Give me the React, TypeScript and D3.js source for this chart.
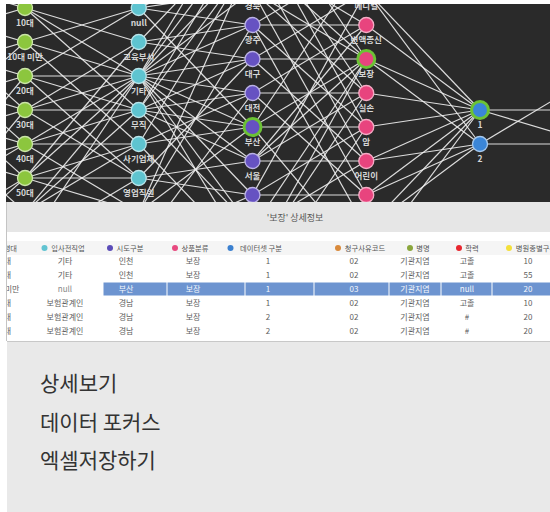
import React from 'react';
import * as d3 from 'd3';

// graph columns (left column sits off screen)
const hiddenNodes = ['구분1', '구분2', '구분3', '구분4', '구분5', '구분6', '구분7', '구분8', '구분9', '구분10'];
const ageNodes = ['10대', '10대 미만', '20대', '30대', '40대', '50대', '60대', '70대'];
const jobNodes = ['null', '교육부서', '기타', '무직', '사기업체', '영업직원', '보험관계인', '자영업'];
const regionNodes = ['강원', '경기', '경남', '경북', '광주', '대구', '대전', '부산', '서울', '세종', '울산', '인천', '전남'];
const productNodes = ['건강', '메디컬', '변액종신', '보장', '실손', '암', '어린이', '연금', '저축', '종신'];
const datasetNodes = ['1', '2'];
const claimNodes = ['01', '02', '03'];

const hiddenAgeLinks = [
  ['구분1', '10대'], ['구분3', '10대'],
  ['구분2', '10대 미만'], ['구분4', '10대 미만'], ['구분6', '10대 미만'],
  ['구분3', '20대'], ['구분5', '20대'], ['구분8', '20대'],
  ['구분2', '30대'], ['구분4', '30대'], ['구분6', '30대'], ['구분9', '30대'],
  ['구분3', '40대'], ['구분5', '40대'], ['구분7', '40대'], ['구분8', '40대'],
  ['구분4', '50대'], ['구분6', '50대'], ['구분9', '50대'], ['구분10', '50대'],
  ['구분5', '60대'], ['구분7', '60대'], ['구분6', '70대'], ['구분8', '70대'],
];
const ageJobLinks = [
  ['10대', '교육부서'], ['10대', '기타'], ['10대', '무직'],
  ['10대 미만', 'null'], ['10대 미만', '기타'], ['10대 미만', '사기업체'],
  ['20대', '기타'], ['20대', '무직'], ['20대', '영업직원'], ['20대', 'null'],
  ['30대', '기타'], ['30대', '무직'], ['30대', '교육부서'], ['30대', '영업직원'],
  ['40대', '기타'], ['40대', '사기업체'], ['40대', '무직'], ['40대', '보험관계인'],
  ['50대', '기타'], ['50대', '사기업체'], ['50대', '영업직원'], ['50대', '보험관계인'], ['50대', '교육부서'],
  ['60대', '기타'], ['60대', '무직'], ['60대', '사기업체'], ['60대', '자영업'],
  ['70대', '기타'], ['70대', '영업직원'], ['70대', '보험관계인'],
];
const jobRegionLinks = [
  ['null', '경북'], ['null', '광주'], ['null', '부산'], ['null', '경남'],
  ['교육부서', '광주'], ['교육부서', '대구'], ['교육부서', '경기'],
  ['기타', '강원'], ['기타', '경기'], ['기타', '경남'], ['기타', '경북'], ['기타', '광주'], ['기타', '대구'],
  ['기타', '대전'], ['기타', '부산'], ['기타', '서울'], ['기타', '세종'], ['기타', '울산'], ['기타', '인천'],
  ['무직', '경기'], ['무직', '경남'], ['무직', '대구'], ['무직', '대전'], ['무직', '부산'], ['무직', '서울'], ['무직', '울산'],
  ['사기업체', '경남'], ['사기업체', '대전'], ['사기업체', '부산'], ['사기업체', '인천'],
  ['영업직원', '대구'], ['영업직원', '서울'], ['영업직원', '세종'],
  ['보험관계인', '경남'], ['보험관계인', '광주'], ['보험관계인', '부산'], ['보험관계인', '울산'],
  ['자영업', '대전'], ['자영업', '세종'],
];
const regionProductLinks = [
  ['강원', '메디컬'], ['강원', '보장'],
  ['경기', '건강'], ['경기', '실손'], ['경기', '암'],
  ['경남', '보장'], ['경남', '변액종신'], ['경남', '어린이'],
  ['경북', '보장'], ['경북', '메디컬'], ['경북', '실손'], ['경북', '연금'],
  ['광주', '건강'], ['광주', '변액종신'], ['광주', '암'], ['광주', '저축'],
  ['대구', '보장'], ['대구', '어린이'], ['대구', '메디컬'],
  ['대전', '실손'], ['대전', '변액종신'], ['대전', '연금'],
  ['부산', '보장'], ['부산', '암'], ['부산', '건강'], ['부산', '종신'],
  ['서울', '보장'], ['서울', '실손'], ['서울', '어린이'], ['서울', '변액종신'],
  ['세종', '암'], ['세종', '메디컬'], ['세종', '연금'],
  ['울산', '보장'], ['울산', '어린이'], ['울산', '저축'],
  ['인천', '보장'], ['인천', '실손'],
  ['전남', '암'], ['전남', '종신'],
];
const productDatasetLinks = [
  ['메디컬', '1'], ['메디컬', '2'], ['변액종신', '1'], ['보장', '1'], ['보장', '2'],
  ['실손', '1'], ['암', '1'], ['어린이', '1'], ['어린이', '2'],
  ['연금', '1'], ['연금', '2'], ['저축', '1'], ['저축', '2'], ['종신', '1'],
];
const datasetClaimLinks = [['1', '02'], ['1', '03'], ['2', '03'], ['2', '01']];

const focusNodes = ['부산', '보장', '1'];

// detail table
const detailTitle = "'보장' 상세정보";
const tableHeaders = ['연령대', '입사전직업', '시도구분', '상품분류', '데이터셋 구분', '청구사유코드', '병명', '학력', '병원종별구분'];
const tableRows = [
  ['40대', '기타', '인천', '보장', '1', '02', '기관지염', '고졸', '10'],
  ['50대', '기타', '인천', '보장', '1', '02', '기관지염', '고졸', '55'],
  ['10대 미만', 'null', '부산', '보장', '1', '03', '기관지염', 'null', '20'],
  ['30대', '보험관계인', '경남', '보장', '1', '02', '기관지염', '고졸', '10'],
  ['40대', '보험관계인', '경남', '보장', '2', '02', '기관지염', '#', '20'],
  ['30대', '보험관계인', '경남', '보장', '2', '02', '기관지염', '#', '20'],
  ['20대', '기타', '경남', '보장', '1', '01', '기관지염', '고졸', '10'],
];
const selectedRow = 2;
const menuItems = ['상세보기', '데이터 포커스', '엑셀저장하기'];

// layout / style
const columnNodes = [hiddenNodes, ageNodes, jobNodes, regionNodes, productNodes, datasetNodes, claimNodes];
const columnStart = [-1, 0, 0, -3.5, -1.5, 3, 2];
const columnColor = ['#9a9a9a', '#8cc63e', '#5ec4d0', '#6652c2', '#e8447e', '#3b86d8', '#d98a3b'];
const layerLinks = [hiddenAgeLinks, ageJobLinks, jobRegionLinks, regionProductLinks, productDatasetLinks, datasetClaimLinks];
const headerColor = ['#8cc63e', '#62c4d2', '#5b4cb8', '#e84a80', '#3b80d0', '#d98a3b', '#8aa63c', '#e8262e', '#f4e03a'];
const colText = [3, 65, 126, 193, 268, 354, 415, 467, 528];
const headText = [3, 64, 126, 191, 257, 361, 419, 468, 532];
const colEdges = [-40, 30, 103, 167, 245, 314, 389, 441, 492, 560];

const FONT = "'Noto Sans CJK KR', 'Noto Sans', sans-serif";

export default function App() {
  const xCol = d3.scaleLinear().domain([1, 5]).range([25, 480]);
  const yRow = d3.scaleLinear().domain([0, 5]).range([8, 178]);

  const pos = (ci: number, name: string) => {
    const j = columnNodes[ci].indexOf(name);
    return { x: xCol(ci), y: yRow(columnStart[ci] + j) };
  };

  const links = layerLinks.flatMap((layer, li) =>
    layer.map(([s, t]) => ({ a: pos(li, s), b: pos(li + 1, t), key: `${li}-${s}-${t}` }))
  );

  const nodes = columnNodes.flatMap((list, ci) =>
    list.map((name) => ({ name, ci, ...pos(ci, name) }))
  );
  // only nodes whose label can be seen inside the panel get a label
  const inView = (n: { x: number; y: number }) => n.x > 0 && n.x < 550 && n.y + 18 > 4 && n.y + 10 < 202;

  const rowY = d3.scaleLinear().domain([0, 1]).range([261, 275]);

  return (
    <div style={{ position: 'absolute', left: 0, top: 0 }}>
      <svg width={550} height={512} style={{ display: 'block', fontFamily: FONT }}>
        <defs>
          <clipPath id="graphClip">
            <rect x={6} y={4} width={544} height={198} />
          </clipPath>
          <clipPath id="tableClip">
            <rect x={7} y={232} width={543} height={109} />
          </clipPath>
        </defs>
        <rect width={550} height={512} fill="#ffffff" />

        {/* network */}
        <g clipPath="url(#graphClip)">
          <rect x={6} y={4} width={544} height={198} fill="#2a2a2a" />
          {links.map((l) => (
            <line key={l.key} x1={l.a.x} y1={l.a.y} x2={l.b.x} y2={l.b.y}
              stroke="#efefef" strokeWidth={1.2} strokeOpacity={0.9} />
          ))}
          {nodes.filter((n) => n.ci > 0 && n.x < 550).map((n) => {
            const focus = focusNodes.includes(n.name) && n.ci >= 3;
            const c = columnColor[n.ci];
            return (
              <circle key={`${n.ci}-${n.name}`} cx={n.x} cy={n.y} r={focus ? 8.5 : 7.5} fill={c}
                stroke={focus ? '#6cc235' : d3.interpolateRgb(c, '#ffffff')(0.55)}
                strokeWidth={focus ? 3 : 1.3} />
            );
          })}
          {nodes.filter(inView).map((n) => (
            <text key={`t-${n.ci}-${n.name}`} x={n.x} y={n.y + 18} textAnchor="middle" fontSize={8.5}
              fontWeight="bold" fill="#d6d6d6">{n.name}</text>
          ))}
        </g>

        {/* detail header */}
        <rect x={6} y={202} width={544} height={30} fill="#e6e6e6" />
        <text x={295} y={221} textAnchor="middle" fontSize={9} fill="#555">{detailTitle}</text>

        {/* table */}
        <g clipPath="url(#tableClip)">
          <rect x={7} y={241} width={543} height={14} fill="#f5f5f5" />
          {tableHeaders.map((h, i) => {
            const w = h.length * 7;
            const cx = headText[i];
            return (
              <g key={h}>
                {i > 0 && <circle cx={cx - w / 2 - 2} cy={248} r={3} fill={headerColor[i]} />}
                <text x={cx + 4} y={251} textAnchor="middle" fontSize={7.3} fill="#555">{h}</text>
              </g>
            );
          })}
          {tableRows.map((row, ri) => (
            <g key={ri}>
              {ri === selectedRow &&
                row.map((_, ci) => ci >= 2 ? (
                  <rect key={ci} x={colEdges[ci] + 0.5} y={rowY(ri) - 6.5}
                    width={colEdges[ci + 1] - colEdges[ci] - 1} height={13} fill="#6d94d0" />
                ) : null)}
              {row.map((v, ci) => (
                <text key={ci} x={colText[ci]} y={rowY(ri) + 3} textAnchor="middle" fontSize={8}
                  fill={ri === selectedRow && ci >= 2 ? '#f4f7fc' : ci === 1 && ri === selectedRow ? '#888' : '#5e5e5e'}>
                  {v}
                </text>
              ))}
            </g>
          ))}
        </g>
        <line x1={6.5} x2={6.5} y1={202} y2={341} stroke="#c4c4c4" />

        {/* menu */}
        <rect x={7} y={341} width={543} height={171} fill="#e9e9e9" />
        <line x1={7} x2={550} y1={341.5} y2={341.5} stroke="#c8c8c8" />
        {menuItems.map((m, i) => (
          <text key={m} x={40} y={391 + i * 38.5} fontSize={21} fill="#333">{m}</text>
        ))}
      </svg>
    </div>
  );
}
